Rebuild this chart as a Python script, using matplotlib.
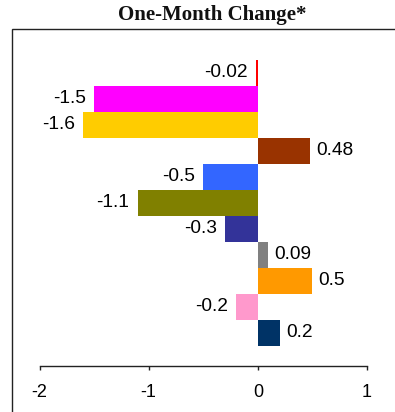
import matplotlib
matplotlib.use("Agg")
import matplotlib.pyplot as plt
from matplotlib.patches import Rectangle

# values shown on each bar, top to bottom
values = [-0.02, -1.5, -1.6, 0.48, -0.5, -1.1, -0.3, 0.09, 0.5, -0.2, 0.2]
labels = ["-0.02", "-1.5", "-1.6", "0.48", "-0.5", "-1.1", "-0.3", "0.09", "0.5", "-0.2", "0.2"]
colors = ["#FF0000", "#FF00FF", "#FFCC00", "#993300", "#3366FF", "#808000",
          "#333399", "#808080", "#FF9900", "#FF99CC", "#003366"]
xticks = [-2, -1, 0, 1]

W, H = 395, 412
fig = plt.figure(figsize=(W / 100, H / 100), dpi=100)

# outer chart frame (runs off the right and bottom edges)
frame = Rectangle((12 / W, -0.2), 1.2, (H - 29) / H + 0.2, transform=fig.transFigure,
                  fill=False, edgecolor="#222222", linewidth=1.0, clip_on=False)
fig.patches.append(frame)

fig.text(212 / W, (H - 15) / H, "One-Month Change*", ha="center", va="center",
         fontsize=15, fontweight="bold", family="Liberation Serif", color="#111111")

ax = fig.add_axes([39.5 / W, (H - 365.7) / H, (367 - 39.5) / W, (365.7 - 29) / H])
pos = list(range(len(values)))
ax.barh(pos, values, height=1.0, color=colors)
ax.set_xlim(-2, 1)
ax.set_ylim(11.26, -1.69)

for p, v, t in zip(pos, values, labels):
    if v < 0:
        ax.annotate(t, (v, p), xytext=(-6, 0), textcoords="offset points",
                    ha="right", va="center", fontsize=13.8, family="Liberation Sans")
    else:
        ax.annotate(t, (v, p), xytext=(4.5, 0), textcoords="offset points",
                    ha="left", va="center", fontsize=13.8, family="Liberation Sans")

for s in ["top", "right", "left"]:
    ax.spines[s].set_visible(False)
ax.spines["bottom"].set_color("#222222")
ax.spines["bottom"].set_linewidth(1.0)
ax.set_yticks([])
ax.set_xticks(xticks)
ax.set_xticklabels([str(x) for x in xticks], family="Liberation Sans", fontsize=13)
ax.tick_params(axis="x", direction="out", length=3, width=1.0, color="#222222", pad=10.5)
ax.patch.set_alpha(0)

fig.savefig("out.png", dpi=100)
